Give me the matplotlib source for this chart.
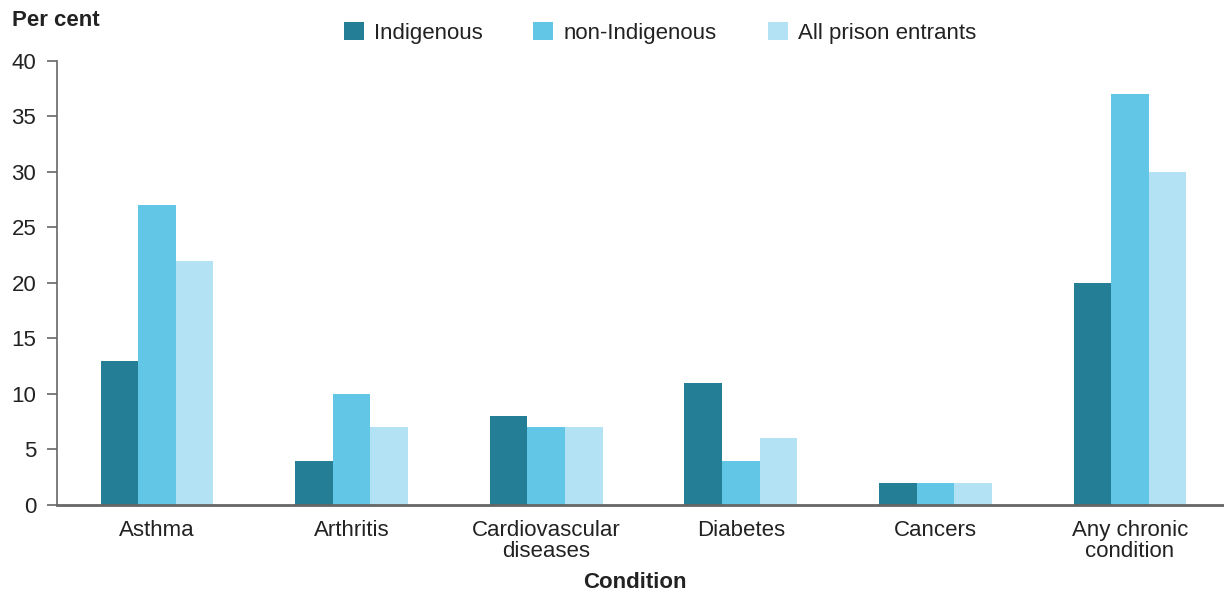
import matplotlib.pyplot as plt
import numpy as np
from matplotlib.patches import Patch

plt.rcParams['font.family'] = ['Liberation Sans', 'DejaVu Sans']

conditions = ['Asthma', 'Arthritis', 'Cardiovascular\ndiseases', 'Diabetes',
              'Cancers', 'Any chronic\ncondition']
indigenous = [13, 4, 8, 11, 2, 20]
non_indigenous = [27, 10, 7, 4, 2, 37]
all_entrants = [22, 7, 7, 6, 2, 30]

series = ['Indigenous', 'non-Indigenous', 'All prison entrants']
colours = ['#237e96', '#62c6e6', '#b3e2f4']
fs = 16

fig = plt.figure(figsize=(12.24, 5.95), dpi=100)
ax = fig.add_axes([0.0466, 0.1513, 0.9534, 0.7462])

x = np.arange(len(conditions))
w = 0.193
for i, (vals, c) in enumerate(zip([indigenous, non_indigenous, all_entrants], colours)):
    ax.bar(x + (i - 1) * w, vals, w, color=c, edgecolor='none', zorder=2)

ax.set_xlim(-0.514, 5.483)
ax.set_ylim(0, 40)
ax.set_yticks(range(0, 41, 5))
ax.set_xticks(x)
ax.set_xticklabels(conditions, fontsize=fs, color='#222222', linespacing=1.0)
ax.tick_params(axis='y', labelsize=fs, labelcolor='#222222', length=7,
               color='#666666', width=1.2, pad=8)
ax.tick_params(axis='x', length=0, pad=11)

for s in ['top', 'right']:
    ax.spines[s].set_visible(False)
ax.spines['left'].set_color('#666666')
ax.spines['left'].set_linewidth(1.2)
ax.spines['bottom'].set_color('#666666')
ax.spines['bottom'].set_linewidth(2)

fig.text(0.010, 0.965, 'Per cent', fontsize=fs, fontweight='bold', va='center', color='#222222')
fig.text(0.519, 0.021, 'Condition', fontsize=fs, fontweight='bold', ha='center', va='center', color='#222222')

handles = [Patch(facecolor=c, edgecolor='none') for c in colours]
fig.legend(handles, series, loc='center', bbox_to_anchor=(0.539, 0.945), ncol=3,
           frameon=False, fontsize=fs, handlelength=0.9, handleheight=0.85,
           columnspacing=2.3, handletextpad=0.45, labelcolor='#222222')

fig.savefig('out.png', dpi=100)
